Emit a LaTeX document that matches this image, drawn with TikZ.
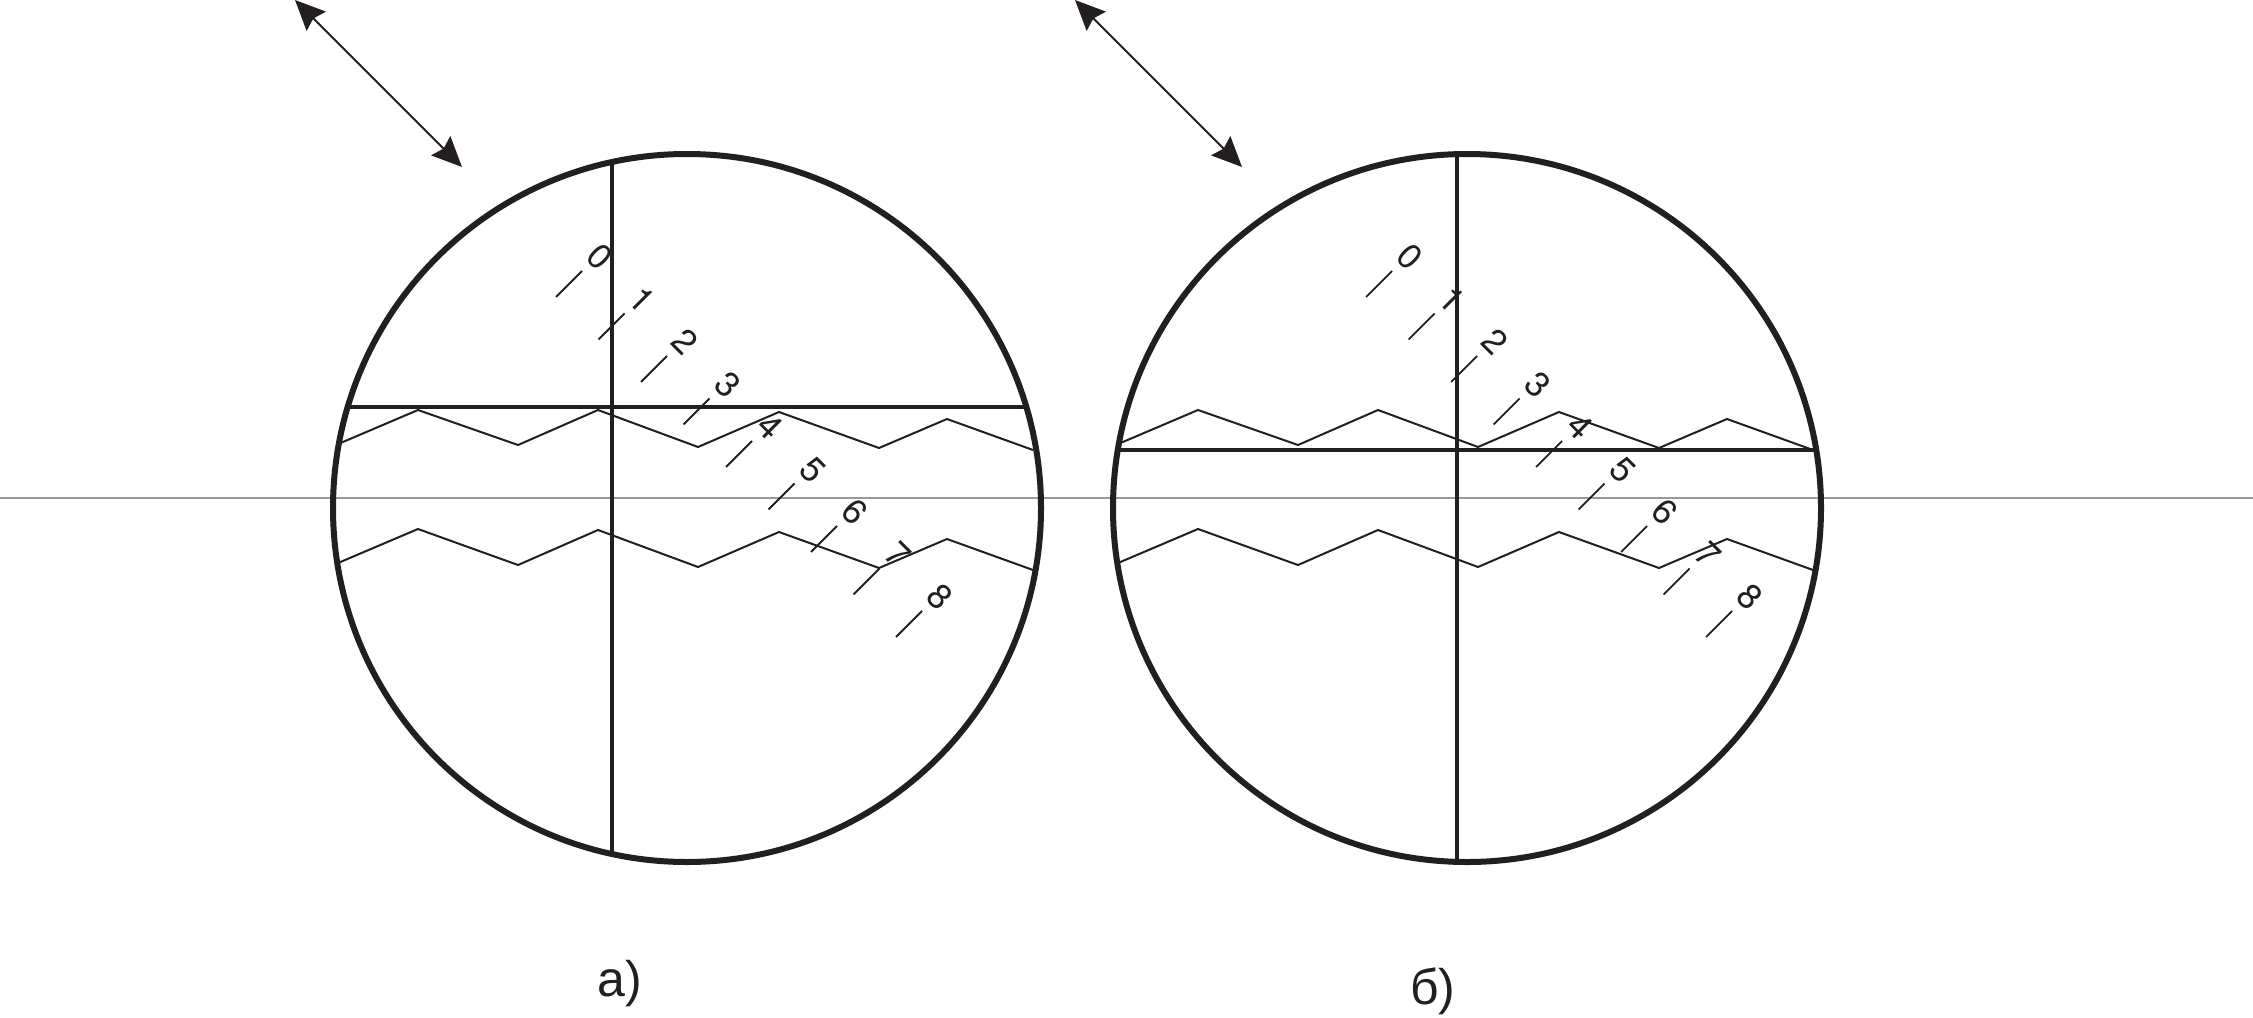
\documentclass[tikz,border=0pt]{standalone}
\usepackage{fontspec}
\setmainfont{Liberation Sans}
\newfontfamily\digitfont{TeX Gyre Heros}
\usetikzlibrary{arrows.meta}
\definecolor{ink}{HTML}{231F20}
\tikzset{
  ring/.style={draw=ink,line width=6pt},
  hair/.style={draw=ink,line width=4.4pt},
  wave/.style={draw=ink,line width=2pt,line join=miter},
  tick/.style={draw=ink,line width=1.8pt},
  axisline/.style={draw=black!40,line width=1.2pt},
  dblarrow/.style={draw=ink,line width=2pt,{Stealth[length=30pt,width=27pt,inset=4pt]}-{Stealth[length=30pt,width=27pt,inset=4pt]}},
  digit/.style={text=ink,inner sep=0pt,rotate=-45,font=\digitfont\fontsize{35}{35}\selectfont},
  caption/.style={text=ink,inner sep=0pt,font=\fontsize{50}{50}\selectfont}
}
\begin{document}
\begin{tikzpicture}[x=1pt,y=-1pt]
\useasboundingbox (0,0) rectangle (2253,1017);
\fill[white] (0,0) rectangle (2253,1017);
\coordinate (gl) at (0,498);
\coordinate (gr) at (2253,498);
\draw[axisline] (gl) -- (gr);
% panel a / b: zigzags, offset in x
\foreach \p/\dx/\tx in {a/0/0,b/780/810}{
  \begin{scope}[xshift=\dx pt]
    \draw[wave] (340.5,443) -- (418,410) -- (518,445) -- (598,410) -- (698,447) -- (779,412) -- (879,448) -- (947,419) -- (1033,450);
    \draw[wave] (338,563) -- (418,529) -- (518,565) -- (598,530) -- (698,567) -- (779,532) -- (879,568) -- (947,539) -- (1033,570);
    \coordinate (\p-a1) at (295,0);
    \coordinate (\p-a2) at (462,167);
    \draw[dblarrow] (\p-a1) -- (\p-a2);
  \end{scope}
  \begin{scope}[xshift=\tx pt]
    \foreach \i in {0,...,8}{
      \coordinate (\p-t\i) at ({556+42.5*\i},{297+42.5*\i});
      \coordinate (\p-u\i) at ({582+42.5*\i},{271+42.5*\i});
      \draw[tick] (\p-t\i) -- (\p-u\i);
      \node[digit] (\p-n\i) at ({600+42.5*\i},{257+42.5*\i}) {\i};
    }
  \end{scope}
}
% panel a
\coordinate (av1) at (612,162);
\coordinate (av2) at (612,854);
\coordinate (ah1) at (349,407);
\coordinate (ah2) at (1025,407);
\draw[hair] (av1) -- (av2);
\draw[hair] (ah1) -- (ah2);
\node[circle,ring,minimum size=708pt,inner sep=0pt] (ca) at (687,508) {};
% panel b
\coordinate (bv1) at (1457,154);
\coordinate (bv2) at (1457,862);
\coordinate (bh1) at (1118,450);
\coordinate (bh2) at (1815,450);
\draw[hair] (bv1) -- (bv2);
\draw[hair] (bh1) -- (bh2);
\node[circle,ring,minimum size=708pt,inner sep=0pt] (cb) at (1467,508) {};
\node[caption,anchor=base west] (la) at (597,996) {а)};
\node[caption,anchor=base west] (lb) at (1410,1004) {б)};
\end{tikzpicture}
\end{document}
